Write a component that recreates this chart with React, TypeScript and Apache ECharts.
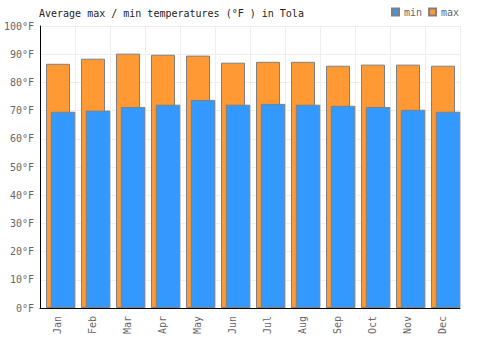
import React, { useEffect, useRef } from "react";
import * as echarts from "echarts";

const months = ["Jan", "Feb", "Mar", "Apr", "May", "Jun", "Jul", "Aug", "Sep", "Oct", "Nov", "Dec"];
const maxTemps = [86.6, 88.4, 90.2, 89.8, 89.5, 87.0, 87.3, 87.3, 85.9, 86.3, 86.3, 85.9];
const minTemps = [69.6, 70.0, 71.3, 72.1, 73.8, 72.1, 72.4, 72.1, 71.7, 71.3, 70.3, 69.6];
const yTicks = { min: 0, max: 100, interval: 10 };

const FONT = "DejaVu Sans Mono";

export default function App() {
  const ref = useRef<HTMLDivElement>(null);
  useEffect(() => {
    if (!ref.current) return;
    const chart = echarts.init(ref.current, undefined, { renderer: "svg" });
    chart.setOption({
      animation: false,
      backgroundColor: "#fff",
      title: {
        text: "Average max / min temperatures (°F ) in Tola",
        left: 34,
        top: 3,
        textStyle: { fontFamily: FONT, fontSize: 10, fontWeight: "normal", color: "#222" },
      },
      legend: {
        data: ["min", "max"],
        left: 386,
        top: 2,
        itemWidth: 7,
        itemHeight: 7,
        itemGap: 6,
        icon: "rect",
        textStyle: { fontFamily: FONT, fontSize: 10, color: "#666" },
      },
      grid: { left: 40, right: 40, top: 26, bottom: 42 },
      xAxis: {
        type: "category",
        data: months,
        axisLine: { show: true, lineStyle: { color: "#000", width: 1 } },
        axisTick: { show: false },
        axisLabel: { rotate: 90, interval: 0, fontFamily: FONT, fontSize: 10, color: "#666", margin: 8 },
        splitLine: { show: true, lineStyle: { color: "#eee" } },
      },
      yAxis: {
        type: "value",
        min: yTicks.min,
        max: yTicks.max,
        interval: yTicks.interval,
        axisLine: { show: true, lineStyle: { color: "#000", width: 1 } },
        axisTick: { show: false },
        axisLabel: { formatter: "{value}°F", fontFamily: FONT, fontSize: 10, color: "#666", margin: 6 },
        splitLine: { show: true, lineStyle: { color: "#eee" } },
      },
      series: [
        {
          name: "max",
          type: "bar",
          data: maxTemps,
          barWidth: 24,
          barGap: "-80%",
          itemStyle: { color: "#ff9933", borderColor: "#808080", borderWidth: 1 },
        },
        {
          name: "min",
          type: "bar",
          data: minTemps,
          barWidth: 24.5,
          barGap: "-80%",
          itemStyle: { color: "#3399ff", borderColor: "#808080", borderWidth: 1 },
        },
        {
          name: "spacer",
          type: "bar",
          data: [],
          barWidth: 13.3,
          barGap: "-80%",
          silent: true,
        },
      ],
    });
    return () => chart.dispose();
  }, []);
  return <div ref={ref} style={{ position: "absolute", left: 0, top: 0, width: 500, height: 350 }} />;
}
